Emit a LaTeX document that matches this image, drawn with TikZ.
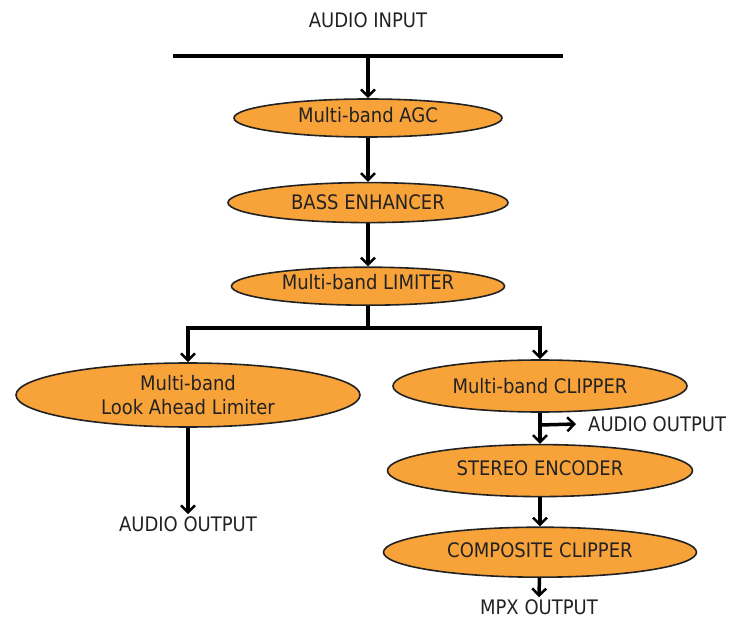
\documentclass[tikz,border=0pt]{standalone}
\usepackage{fontspec}
\setmainfont{DejaVu Sans Condensed}
\usetikzlibrary{shapes.geometric, arrows.meta, positioning}
\definecolor{stageorange}{RGB}{248,163,58}
\definecolor{inkgray}{RGB}{34,34,34}

\begin{document}
\begin{tikzpicture}[
    x=1pt, y=1pt,
    node distance=44pt,
    stage/.style={ellipse, draw=inkgray, line width=1.6pt, fill=stageorange, inner sep=0pt, text=inkgray, font=\fontsize{20}{24}\selectfont},
    label/.style={text=inkgray, font=\fontsize{20}{24}\selectfont, inner sep=0pt},
    flow/.style={line width=3.5pt, -{Straight Barb[length=7pt, width=14pt, line width=2.5pt]}},
]
    \useasboundingbox (0,0) rectangle (736,-620);

    % input bus
    \node[label] (input) at (368,-20) {AUDIO INPUT};
    \coordinate (busL) at (173,-56);
    \coordinate (busR) at (563,-56);
    \coordinate (busM) at (368,-56);
    \draw[line width=4pt] (busL) -- (busR);

    % main chain
    \node[stage, minimum width=268pt, minimum height=38pt, text depth=6pt] (agc) at (368,-118) {Multi-band AGC};
    \node[stage, minimum width=280pt, minimum height=40pt, below=of agc] (bass) {BASS ENHANCER};
    \node[stage, minimum width=273pt, minimum height=38pt, text depth=8pt, below=43pt of bass] (limiter) {Multi-band LIMITER};

    % split
    \coordinate (split) at (368,-328);
    \node[stage, minimum width=344pt, minimum height=64pt, align=center] (lookahead) at (188,-395) {Multi-band\\Look Ahead Limiter};
    \node[stage, minimum width=294pt, minimum height=52pt] (clipper) at (540,-386) {Multi-band CLIPPER};
    \node[stage, minimum width=305pt, minimum height=52pt, text depth=6pt, below=31pt of clipper] (stereo) {STEREO ENCODER};
    \node[stage, minimum width=313pt, minimum height=50pt, text depth=4pt, below=29pt of stereo] (composite) {COMPOSITE CLIPPER};

    % outputs
    \node[label] (outleft) at (188,-524) {AUDIO OUTPUT};
    \node[label, anchor=west] (outright) at (588,-424) {AUDIO OUTPUT};
    \node[label] (mpx) at (539,-607) {MPX OUTPUT};
    \coordinate (tap) at (540,-425);

    % connectors
    \draw[flow] (busM) -- (agc.north);
    \draw[flow] (agc) -- (bass);
    \draw[flow] (bass) -- (limiter);
    \draw[line width=3.5pt] (limiter.south) -- (split);
    \draw[flow] (split) -| (lookahead.north);
    \draw[flow] (split) -| (clipper.north);
    \draw[flow] (lookahead) -- ([yshift=2pt]lookahead |- outleft.north);
    \draw[flow] (clipper) -- (stereo);
    \draw[flow] (tap) -- ([xshift=-12pt]outright.west);
    \draw[flow] (stereo) -- (composite);
    \draw[flow] (composite) -- ([yshift=2pt]mpx.north);
\end{tikzpicture}
\end{document}
